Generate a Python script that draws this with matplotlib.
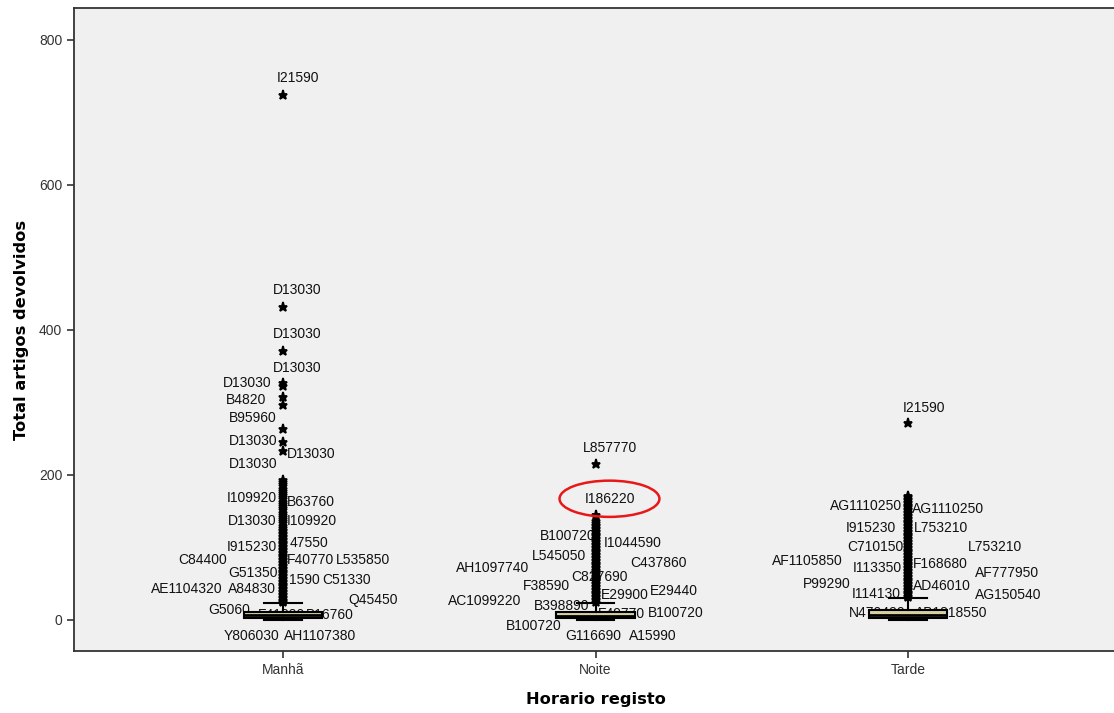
import numpy as np
import matplotlib
matplotlib.use("Agg")
import matplotlib.pyplot as plt
from matplotlib.patches import Ellipse

# --- Dados ---
categorias = ["Manhã", "Noite", "Tarde"]

# estatísticas da caixa (q1, mediana, q3, bigode inferior, bigode superior)
q1 = [3, 3, 3]
mediana = [6, 5, 7]
q3 = [11, 11, 14]
bigode_inf = [0, 0, 0]
bigode_sup = [23, 23, 30]

# outliers / extremos (estrelas)
outliers_manha = [724, 432, 371, 327, 322, 308, 297, 263, 245, 233,
                  193, 190, 187, 184, 181, 178, 175, 172, 169, 166, 163, 160,
                  157, 154, 151, 148, 145, 142, 139, 136, 133, 130, 127, 124,
                  122, 120, 118, 116, 114, 112, 110, 108, 106, 104, 102, 100,
                  98, 96, 94, 92, 90, 88, 86, 84, 82, 80, 78, 76, 74, 72, 70,
                  68, 66, 64, 62, 60, 58, 56, 54, 52, 50, 48, 46, 44, 42, 40,
                  38, 36, 34, 32, 30, 28, 26, 24]
outliers_noite = [215, 145, 136, 133, 131, 129, 127, 125, 123, 121, 119, 117,
                  115, 113, 111, 109, 107, 105, 103, 101, 99, 97, 95, 93, 91,
                  89, 87, 85, 83, 81, 79, 77, 75, 73, 71, 69, 67, 65, 63, 61,
                  59, 57, 55, 53, 51, 49, 47, 45, 43, 41, 39, 37, 35, 33, 31,
                  29, 27, 25]
outliers_tarde = [272, 171, 169, 167, 165, 163, 161, 159, 157, 155, 153, 151,
                  149, 147, 145, 143, 141, 139, 137, 135, 133, 131, 129, 127,
                  125, 123, 121, 119, 117, 115, 113, 111, 109, 107, 105, 103,
                  101, 99, 97, 95, 93, 91, 89, 87, 85, 83, 81, 79, 77, 75, 73,
                  71, 69, 67, 65, 63, 61, 59, 57, 55, 53, 51, 49, 47, 45, 43,
                  41, 39, 37, 35, 33, 31]

# rótulos dos casos
rotulos_manha = ["I21590", "D13030", "D13030", "D13030", "D13030", "B4820",
                 "B95960", "D13030", "D13030", "D13030", "I109920", "B63760",
                 "D13030", "I109920", "I915230", "47550", "C84400", "F40770",
                 "L535850", "G51350", "1590", "C51330", "AE1104320", "A84830",
                 "Q45450", "G5060", "F41320", "B16760", "Y806030", "AH1107380"]
y_rotulos_manha = [748, 455, 394, 348, 327, 303, 279, 246, 229, 215, 168, 163,
                   137, 137, 101, 106, 83, 83, 83, 65, 55, 55, 43, 43, 28, 14,
                   6, 6, -22, -22]

rotulos_noite = ["L857770", "I186220", "B100720", "I1044590", "L545050",
                 "C437860", "AH1097740", "C827690", "F38590", "E29440",
                 "E29900", "AC1099220", "B398890", "F49770", "B100720",
                 "B100720", "G116690", "A15990"]
y_rotulos_noite = [237, 167, 116, 106, 88, 79, 72, 59, 47, 40, 34, 26, 19, 8,
                   10, -8, -22, -22]

rotulos_tarde = ["I21590", "AG1110250", "AG1110250", "I915230", "L753210",
                 "C710150", "L753210", "AF1105850", "I113350", "F168680",
                 "AF777950", "P99290", "AD46010", "I114130", "AG150540",
                 "N470420", "AB1818550"]
y_rotulos_tarde = [292, 157, 153, 126, 126, 101, 101, 81, 72, 77, 65, 50, 47,
                   36, 34, 10, 10]

# deslocamento horizontal do início de cada rótulo (pixels, layout)
dx_manha = [-6, -10, -10, -10, -60, -57, -54, -54, 4, -54, -56, 4, -55, 4, -56,
            7, -105, 4, 53, -55, 6, 39, -132, -55, 66, -75, -25, 23, -59, 1]
dx_noite = [-13, -11, -56, 8, -64, 35, -140, -24, -73, 54, 5, -148, -62, 2,
            52, -90, -30, 33]
dx_tarde = [-5, -78, 4, -62, 6, -61, 60, -136, -55, 5, 67, -105, 5, -56, 67,
            -59, 7]

# --- Figura ---
plt.rcParams['font.family'] = ['Liberation Sans', 'DejaVu Sans']

fig = plt.figure(figsize=(11.14, 7.13), dpi=100)
ax = fig.add_axes([74 / 1114, 1 - 651 / 713, 1043 / 1114, 643 / 713])
ax.set_facecolor('#f0f0f0')

stats = []
outliers = [outliers_manha, outliers_noite, outliers_tarde]
for i in range(3):
    stats.append({'med': mediana[i], 'q1': q1[i], 'q3': q3[i],
                  'whislo': bigode_inf[i], 'whishi': bigode_sup[i],
                  'fliers': outliers[i]})

ax.bxp(stats, positions=[0, 1, 2], widths=0.25, capwidths=0.12,
       patch_artist=True,
       boxprops=dict(facecolor='#d6d0a0', edgecolor='black', linewidth=1.5),
       medianprops=dict(color='black', linewidth=2),
       whiskerprops=dict(color='black', linewidth=1.5),
       capprops=dict(color='black', linewidth=1.5),
       flierprops=dict(marker='*', markerfacecolor='black', markeredgecolor='black',
                       markersize=6.5, markeredgewidth=1.3, linestyle='none'),
       zorder=3)

# rótulos
for pos, textos, ys, dxs in [(0, rotulos_manha, y_rotulos_manha, dx_manha),
                             (1, rotulos_noite, y_rotulos_noite, dx_noite),
                             (2, rotulos_tarde, y_rotulos_tarde, dx_tarde)]:
    for t, yv, dx in zip(textos, ys, dxs):
        ax.annotate(t, xy=(pos, yv), xytext=(dx, 0), textcoords='offset pixels',
                    ha='left', va='center', fontsize=10, color='#111111', zorder=2)

# destaque vermelho
ax.add_patch(Ellipse((1 + 14 / 313, 167), width=100 / 313, height=50,
                     fill=False, edgecolor='#e81818', linewidth=1.8, zorder=5))

ax.set_xlim(-0.668, 2.668)
ax.set_ylim(-43, 844)
ax.set_xticks([0, 1, 2])
ax.set_xticklabels(categorias)
ax.set_yticks([0, 200, 400, 600, 800])
ax.tick_params(axis='both', labelsize=10, colors='#333333', length=5, width=1.2)

for s in ax.spines.values():
    s.set_color('#333333')
    s.set_linewidth(1.3)

ax.set_xlabel("Horario registo", fontsize=11.7, fontweight='bold',
              family='DejaVu Sans', labelpad=11)
ax.set_ylabel("Total artigos devolvidos", fontsize=11.7, fontweight='bold',
              family='DejaVu Sans', labelpad=7)

fig.savefig("out.png", dpi=100)
